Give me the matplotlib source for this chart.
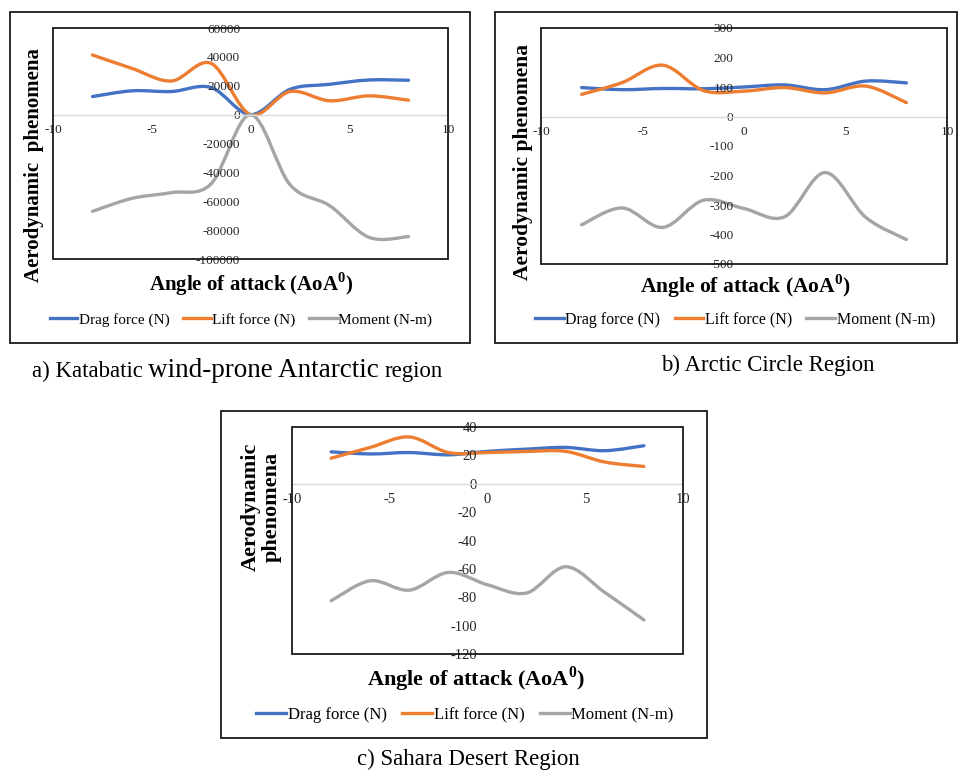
import numpy as np
import matplotlib
matplotlib.use("Agg")
import matplotlib.pyplot as plt
from matplotlib.path import Path
from matplotlib.patches import PathPatch, Rectangle
from matplotlib.lines import Line2D
from matplotlib.ticker import FixedLocator, StrMethodFormatter

plt.rcParams["font.family"] = ["Liberation Serif", "DejaVu Serif"]
plt.rcParams["mathtext.fontset"] = "custom"
plt.rcParams["mathtext.rm"] = "Liberation Serif"
plt.rcParams["mathtext.bf"] = "Liberation Serif:bold"
plt.rcParams["axes.unicode_minus"] = False

# angle of attack (deg)
angles = [-8, -6, -4, -2, 0, 2, 4, 6, 8]

# a) Katabatic wind-prone Antarctic region
drag_a = [12500, 16500, 16000, 18800, 0, 17500, 21000, 24000, 23800]
lift_a = [41300, 32000, 23300, 35500, 0, 16000, 9600, 13000, 10000]
moment_a = [-67000, -58000, -54000, -48000, 0, -48500, -63000, -85000, -84500]

# b) Arctic Circle region
drag_b = [98, 91, 95, 94, 100, 107, 91, 120, 114]
lift_b = [75, 115, 174, 88, 86, 98, 80, 103, 47]
moment_b = [-367, -310, -376, -284, -312, -340, -190, -342, -417]

# c) Sahara Desert region
drag_c = [22.5, 21, 22, 20.4, 22.8, 24.4, 25.6, 23.3, 26.8]
lift_c = [18, 25.6, 33, 22, 22, 22.8, 22.8, 15.3, 12.2]
moment_c = [-82.5, -68.4, -75, -62.5, -71.2, -77, -58.5, -76.6, -96]

series_names = ["Drag force (N)", "Lift force (N)", "Moment (N-m)"]
colors = ["#4472C4", "#ED7D31", "#A5A5A5"]

W, H = 958, 774
fig = plt.figure(figsize=(W / 100, H / 100), dpi=100)


def fx(px):
    return px / W


def fy(py):
    return 1 - py / H


def smooth_path(xs, ys):
    # excel style smoothed line (catmull-rom as cubic bezier)
    p = np.column_stack([xs, ys]).astype(float)
    n = len(p)
    verts = [p[0]]
    codes = [Path.MOVETO]
    for i in range(n - 1):
        p0 = p[i - 1] if i > 0 else p[i]
        p3 = p[i + 2] if i + 2 < n else p[i + 1]
        c1 = p[i] + (p[i + 1] - p0) / 6
        c2 = p[i + 1] - (p3 - p[i]) / 6
        verts += [c1, c2, p[i + 1]]
        codes += [Path.CURVE4] * 3
    return Path(verts, codes)


def box(l, t, r, b):
    fig.add_artist(Rectangle((fx(l), fy(b)), (r - l) / W, (b - t) / H,
                             transform=fig.transFigure, fill=False,
                             ec="#1a1a1a", lw=1.3))


def panel(rect, ylim, ystep, data, tick_fs):
    l, t, r, b = rect
    ax = fig.add_axes([fx(l), fy(b), (r - l) / W, (b - t) / H])
    ax.set_xlim(-10, 10)
    ax.set_ylim(*ylim)
    for vals, c in zip(data, colors):
        ax.add_patch(PathPatch(smooth_path(angles, vals), fill=False,
                               ec=c, lw=2.4, capstyle="round"))
    ax.spines["left"].set_position(("data", 0))
    ax.spines["left"].set_color("none")
    ax.spines["bottom"].set_position(("data", 0))
    ax.spines["bottom"].set_color("#D9D9D9")
    ax.spines["bottom"].set_linewidth(1.0)
    ax.spines["top"].set_visible(False)
    ax.spines["right"].set_visible(False)
    ax.xaxis.set_major_locator(FixedLocator([-10, -5, 0, 5, 10]))
    ax.yaxis.set_major_locator(FixedLocator(np.arange(ylim[0], ylim[1] + ystep / 2, ystep)))
    ax.yaxis.set_major_formatter(StrMethodFormatter("{x:.0f}"))
    ax.tick_params(axis="x", length=0, pad=6.5, labelsize=tick_fs, colors="#262626")
    ax.tick_params(axis="y", length=0, pad=7.5, labelsize=tick_fs, colors="#262626")
    ax.add_patch(Rectangle((0, 0), 1, 1, transform=ax.transAxes, fill=False,
                           ec="#1a1a1a", lw=1.3, clip_on=False, zorder=5))
    return ax


def legend(cx, cy, fs):
    handles = [Line2D([], [], color=c, lw=2.4) for c in colors]
    fig.legend(handles, series_names, loc="center",
               bbox_to_anchor=(fx(cx), fy(cy)), ncol=3, frameon=False,
               fontsize=fs, handlelength=1.8, handletextpad=0.1,
               columnspacing=0.9, borderpad=0)


xlabel = r"Angle of attack (AoA$^\mathbf{0}$)"

# panel a
box(10, 12, 470, 343)
panel((53, 28, 448, 259), (-100000, 60000), 20000, [drag_a, lift_a, moment_a], 9.5)
fig.text(fx(251), fy(284), xlabel, ha="center", va="center", fontsize=15, fontweight="bold")
fig.text(fx(34), fy(165), "Aerodynamic  phenomena", rotation=90, ha="center", va="center",
         fontsize=15, fontweight="bold")
legend(241, 320, 11)

# panel b
box(495, 12, 957, 343)
panel((541, 28, 947, 264), (-500, 300), 100, [drag_b, lift_b, moment_b], 9.5)
fig.text(fx(745), fy(286), xlabel, ha="center", va="center", fontsize=15.5, fontweight="bold")
fig.text(fx(523), fy(162), "Aerodynamic phenomena", rotation=90, ha="center", va="center",
         fontsize=15.5, fontweight="bold")
legend(735, 320, 11.5)

# panel c
box(221, 411, 707, 738)
panel((292, 427, 683, 654), (-120, 40), 20, [drag_c, lift_c, moment_c], 10.5)
fig.text(fx(476), fy(679), xlabel, ha="center", va="center", fontsize=16, fontweight="bold")
fig.text(fx(261), fy(507), "Aerodynamic\nphenomena", rotation=90, ha="center", va="center",
         fontsize=16, fontweight="bold", linespacing=1.05)
legend(465, 715, 12)

# captions
renderer = fig.canvas.get_renderer()
x0 = 32
base = 377
for txt, fs in [("a) Katabatic", 16.5), ("wind-prone Antarctic", 19.5), ("region", 16.5)]:
    tt = fig.text(fx(x0), fy(base), txt, ha="left", va="baseline", fontsize=fs)
    ext = tt.get_window_extent(renderer)
    x0 = ext.x1 + 5.5
fig.text(fx(768), fy(365), "b) Arctic Circle Region", ha="center", va="center", fontsize=16.5)
fig.text(fx(468), fy(759), "c) Sahara Desert Region", ha="center", va="center", fontsize=16.5)

fig.savefig("out.png", dpi=100)
